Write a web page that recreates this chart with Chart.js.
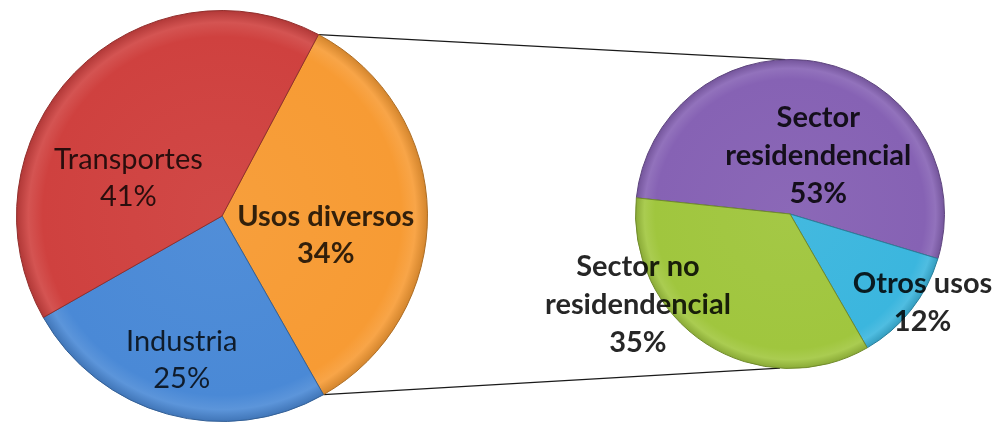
<!DOCTYPE html>
<html>
<head>
<meta charset="utf-8">
<script src="https://cdn.jsdelivr.net/npm/chart.js@4.4.1/dist/chart.umd.min.js"></script>
<style>
  body { margin: 0; background: #fff; }
  #wrap { position: relative; width: 996px; height: 422px; }
  #wrap canvas { position: absolute; left: 0; top: 0; }
</style>
</head>
<body>
<div id="wrap">
  <canvas id="links" width="996" height="422"></canvas>
  <canvas id="mainPie" width="996" height="422"></canvas>
  <canvas id="subPie" width="996" height="422"></canvas>
</div>
<script>
// consumo por sector
const mainLabels = ['Usos diversos', 'Industria', 'Transportes'];
const mainValues = [34, 25, 41];

// desglose de "Usos diversos"
const subLabels = [['Sector', 'residendencial'], 'Otros usos', ['Sector no', 'residendencial']];
const subValues = [53, 12, 35];

const mainColors = ['#F79B34', '#4A89D6', '#CF413F'];
const subColors = ['#8662B4', '#3BB6DE', '#A0C63E'];

const hexToRgb = (hex) => {
  const n = parseInt(hex.slice(1), 16);
  return [(n >> 16) & 255, (n >> 8) & 255, n & 255];
};
const tint = (hex, k) => {
  // k > 0 lightens towards white, k < 0 darkens towards black
  const c = hexToRgb(hex).map(v => Math.round(k > 0 ? v + (255 - v) * k : v * (1 + k)));
  return `rgb(${c[0]},${c[1]},${c[2]})`;
};

// radial shading so the slices get a soft bevelled rim
const shaded = (colors) => (c) => {
  const base = colors[c.dataIndex];
  const area = c.chart.chartArea;
  if (!area) return base;
  const cx = (area.left + area.right) / 2;
  const cy = (area.top + area.bottom) / 2;
  const r = Math.min(area.right - area.left, area.bottom - area.top) / 2;
  const g = c.chart.ctx.createRadialGradient(cx, cy, 0, cx, cy, r);
  g.addColorStop(0, tint(base, 0.04));
  g.addColorStop(0.87, base);
  g.addColorStop(0.94, tint(base, 0.1));
  g.addColorStop(1, tint(base, -0.15));
  return g;
};

const sliceLabels = {
  id: 'sliceLabels',
  afterDatasetsDraw(chart, args, opts) {
    const ctx = chart.ctx;
    const values = chart.data.datasets[0].data;
    const total = values.reduce((a, b) => a + b, 0);
    chart.getDatasetMeta(0).data.forEach((arc, i) => {
      const pos = arc.tooltipPosition();
      const off = opts.offsets[i];
      const lines = [].concat(chart.data.labels[i]);
      lines.push(Math.round(values[i] / total * 100) + '%');
      ctx.save();
      ctx.font = (opts.bold[i] ? 'bold ' : '') + opts.size + 'px Lato';
      ctx.fillStyle = opts.color;
      ctx.textAlign = 'center';
      ctx.textBaseline = 'middle';
      const y0 = pos.y + off[1] - (lines.length - 1) * opts.lineHeight / 2;
      lines.forEach((t, k) => ctx.fillText(t, pos.x + off[0], y0 + k * opts.lineHeight));
      ctx.restore();
    });
  }
};

const pieOptions = (padding, rotation, labelOpts) => ({
  responsive: false,
  animation: false,
  rotation: rotation,
  layout: { padding: padding },
  plugins: {
    legend: { display: false },
    tooltip: { enabled: false },
    sliceLabels: labelOpts
  }
});

const mainChart = new Chart(document.getElementById('mainPie'), {
  type: 'pie',
  data: {
    labels: mainLabels,
    datasets: [{
      data: mainValues,
      backgroundColor: shaded(mainColors),
      borderColor: mainColors.map(c => tint(c, -0.3)),
      borderWidth: 1
    }]
  },
  options: pieOptions({ left: 15, top: 10, right: 567, bottom: 0 }, 28, {
    offsets: [[1, 21], [-13, 45], [-20, 34]],
    bold: [true, false, false],
    size: 29,
    lineHeight: 37,
    color: 'rgba(0,0,0,0.8)'
  }),
  plugins: [sliceLabels]
});

const subChart = new Chart(document.getElementById('subPie'), {
  type: 'pie',
  data: {
    labels: subLabels,
    datasets: [{
      data: subValues,
      backgroundColor: shaded(subColors),
      borderColor: subColors.map(c => tint(c, -0.3)),
      borderWidth: 1
    }]
  },
  options: pieOptions({ left: 635, top: 59, right: 51, bottom: 53 }, 276, {
    offsets: [[13, 17], [72, 41], [-110, 26]],
    bold: [true, true, true],
    size: 29,
    lineHeight: 38,
    color: 'rgba(0,0,0,0.85)'
  }),
  plugins: [sliceLabels]
});

// connector lines from the edges of "Usos diversos" to the secondary pie
const drawLinks = () => {
  const ctx = document.getElementById('links').getContext('2d');
  const src = mainChart.getDatasetMeta(0).data[0];
  const dst = subChart.getDatasetMeta(0).data[0];
  const R = src.outerRadius, r = dst.outerRadius;
  const ends = [
    [src.startAngle, -Math.PI / 2 - 0.03],
    [src.endAngle, Math.PI / 2 + 0.065]
  ];
  ctx.strokeStyle = '#1a1a1a';
  ctx.lineWidth = 1.2;
  ends.forEach(([a, b]) => {
    ctx.beginPath();
    ctx.moveTo(src.x + R * Math.cos(a), src.y + R * Math.sin(a));
    ctx.lineTo(dst.x + r * Math.cos(b), dst.y + r * Math.sin(b));
    ctx.stroke();
  });
};
drawLinks();
</script>
</body>
</html>
